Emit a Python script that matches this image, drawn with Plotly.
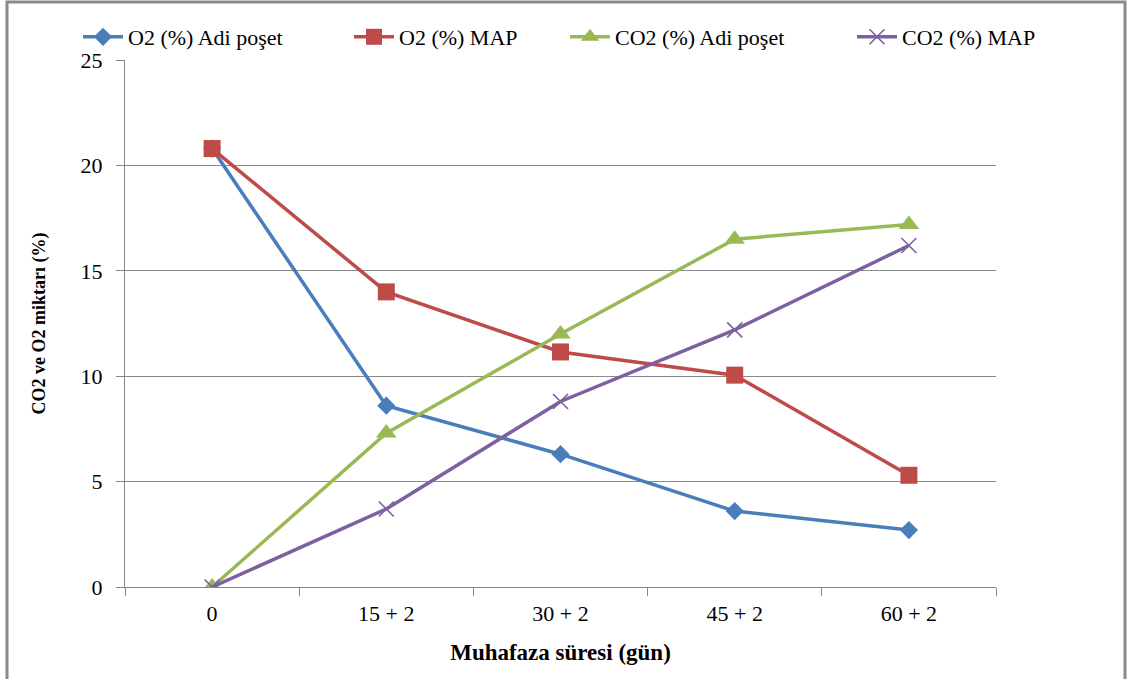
import plotly.graph_objects as go

categories = ["0", "15 + 2", "30 + 2", "45 + 2", "60 + 2"]
o2_adi = [20.8, 8.6, 6.3, 3.6, 2.7]
o2_map = [20.8, 14.0, 11.15, 10.05, 5.3]
co2_adi = [0.0, 7.3, 12.0, 16.5, 17.2]
co2_map = [0.0, 3.7, 8.8, 12.2, 16.2]

FONT = "Liberation Serif, Times New Roman, serif"
W, H = 1131, 679

series = [
    ("O2 (%) Adi poşet", o2_adi, "#4A7EBB", dict(symbol="diamond", size=14), "legend", 86),
    ("O2 (%) MAP", o2_map, "#BE4B48", dict(symbol="square", size=17), "legend2", 357),
    ("CO2 (%) Adi poşet", co2_adi, "#98B954", dict(symbol="triangle-up", size=18), "legend3", 573),
    ("CO2 (%) MAP", co2_map, "#7D60A0", dict(symbol="x-thin", size=15, line=dict(width=1.6, color="#7D60A0")), "legend4", 860),
]

fig = go.Figure()
legends = {}
for name, vals, color, mk, lg, lx in series:
    fig.add_trace(go.Scatter(
        x=categories, y=vals, name=name, mode="lines+markers",
        line=dict(color=color, width=3.5),
        marker=dict(color=color, **mk),
        legend=lg,
    ))
    legends[lg] = dict(
        xref="container", yref="container",
        x=(lx - 8) / W, xanchor="left",
        y=1 - 37 / H, yanchor="middle",
        orientation="h", font=dict(family=FONT, size=22, color="black"),
        bgcolor="rgba(0,0,0,0)", itemwidth=40,
    )

fig.update_layout(
    width=W, height=H,
    margin=dict(l=125, r=135, t=60, b=92, autoexpand=False),
    paper_bgcolor="white", plot_bgcolor="white",
    font=dict(family=FONT, size=22, color="black"),
    showlegend=True,
    **legends,
    xaxis=dict(
        type="category", range=[-0.5, 4.5],
        showline=True, linecolor="#868686", linewidth=1,
        ticks="outside", tickson="boundaries", ticklen=8, tickcolor="#868686",
        showgrid=False, tickfont=dict(size=22), ticklabelstandoff=7,
        title=dict(text="<b>Muhafaza süresi (gün)</b>", font=dict(size=23), standoff=18),
    ),
    yaxis=dict(
        range=[0, 25], dtick=5, tick0=0,
        showline=True, linecolor="#868686", linewidth=1,
        ticks="outside", ticklen=8, tickcolor="#868686",
        showgrid=True, gridcolor="#8a8a8a", gridwidth=1,
        zeroline=False, tickfont=dict(size=22), ticklabelstandoff=9,
        title=dict(text="<b>CO2 ve O2 miktarı (%)</b>", font=dict(size=18), standoff=30),
    ),
)

fig.add_shape(type="rect", xref="paper", yref="paper",
              x0=(7 - 125) / 871, x1=(1125 - 125) / 871,
              y0=(587 - 690) / 527, y1=(587 - 2) / 527,
              line=dict(color="#8a8a8a", width=3), fillcolor="rgba(0,0,0,0)", layer="below")

fig.write_html("out.html")
